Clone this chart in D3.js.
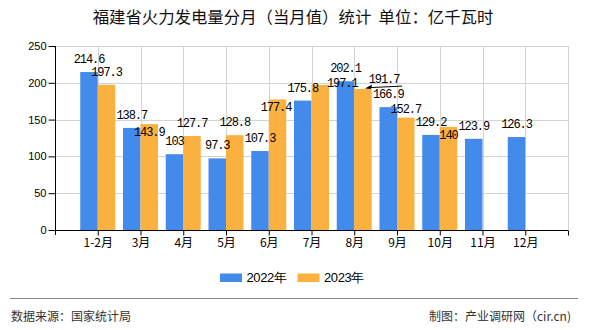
<!DOCTYPE html>
<html><head><meta charset="utf-8">
<script src="https://cdn.jsdelivr.net/npm/d3@7/dist/d3.min.js"></script>
<style>html,body{margin:0;padding:0;background:#fff;}svg{display:block;}</style>
</head><body>
<script>
const categories = ["1-2月","3月","4月","5月","6月","7月","8月","9月","10月","11月","12月"];
const series2022 = [214.6,138.7,103,97.3,107.3,175.8,202.1,166.9,129.2,123.9,126.3];
const series2023 = [197.3,143.9,127.7,128.8,177.4,197.1,191.7,152.7,140];
const seriesNames = ["2022年","2023年"];
const yTicks = [0,50,100,150,200,250];

// label placement nudges (layout only): [seriesIdx, catIdx] -> {dx, dy relative to bar top baseline}
const labelNudge = {
  "1-1": {dx:0, dy:12},
  "1-4": {dx:-1.5, dy:11.5},
  "1-5": {dx:22, dy:2.3},
  "1-6": {dx:21, dy:-6.3, leader:true},
  "1-7": {dx:0, dy:-4.5},
  "1-8": {dx:0, dy:12}
};

const W=590,H=330;
const colors=["#428bea","#fbb140"];
const svg=d3.select("body").append("svg").attr("width",W).attr("height",H);
const x=d3.scaleLinear().domain([0,12]).range([55,568]);
const y=d3.scaleLinear().domain([0,250]).range([230,46]);
const barW=17.5;

// title
svg.append("text").attr("x",293).attr("y",23).attr("text-anchor","middle")
  .attr("font-family","'Noto Sans CJK SC'").attr("font-size",16.4).attr("fill","#111")
  .attr("xml:space","preserve").style("white-space","pre")
  .text("福建省火力发电量分月（当月值）统计  单位：亿千瓦时");

// grid
const grid=svg.append("g").attr("stroke","#d3d3d3").attr("stroke-width",1);
yTicks.filter(t=>t>0).forEach(t=>{
  grid.append("line").attr("x1",x(0)).attr("x2",x(12)).attr("y1",Math.round(y(t))+0.5).attr("y2",Math.round(y(t))+0.5);
});
d3.range(1,13).forEach(k=>{
  grid.append("line").attr("x1",Math.round(x(k))+0.5).attr("x2",Math.round(x(k))+0.5).attr("y1",y(250)).attr("y2",y(0));
});

// bars
const allSeries=[series2022,series2023];
allSeries.forEach((s,si)=>{
  svg.append("g").selectAll("rect").data(s).join("rect")
    .attr("x",(d,i)=>x(i+1)+(si===0?-barW:0))
    .attr("y",d=>y(d))
    .attr("width",barW)
    .attr("height",d=>y(0)-y(d))
    .attr("fill",colors[si]);
});

// axes
const yAxis=d3.axisLeft(y).tickValues(yTicks).tickSize(7).tickPadding(2).tickFormat(d3.format("d"));
const gy=svg.append("g").attr("transform",`translate(${x(0)+0.5},0)`).call(yAxis);
gy.select(".domain").attr("d",`M0,${y(250)}V${y(0)+5}`).attr("stroke","#000");
gy.selectAll(".tick line").attr("stroke","#000");
gy.selectAll("text").attr("font-family","'Liberation Sans',Arial,sans-serif").attr("font-size",11).attr("fill","#000");

const xAxis=d3.axisBottom(x).tickValues(d3.range(1,13)).tickSize(5).tickPadding(3)
  .tickFormat(k=>categories[k-1]||"");
const gx=svg.append("g").attr("transform",`translate(0,${y(0)+0.5})`).call(xAxis);
gx.select(".domain").attr("d",`M${x(0)},0H${x(12)}`).attr("stroke","#000");
gx.selectAll(".tick line").attr("stroke","#000");
gx.selectAll("text").attr("font-family","'Noto Sans CJK SC'").attr("font-size",12).attr("fill","#000");

// value labels
const lab=svg.append("g").attr("font-family","'Liberation Mono',monospace").attr("font-size",12)
  .attr("letter-spacing","-1.1").attr("text-anchor","middle").attr("fill","#000");
allSeries.forEach((s,si)=>{
  s.forEach((v,i)=>{
    const cx=x(i+1)+(si===0?-barW/2:barW/2);
    const top=y(v);
    const n=labelNudge[si+"-"+i];
    let tx=cx, ty=top-9;
    if(n){ tx=cx+n.dx; ty=top+n.dy; }
    lab.append("text").attr("x",tx).attr("y",ty).text(String(v));
    if(n&&n.leader){
      const x1=tx+18, y1=ty+3.5, x2=cx+2, y2=top-0.5;
      svg.append("line").attr("x1",x1).attr("y1",y1).attr("x2",x2+5).attr("y2",y2-0.8).attr("stroke","#000").attr("stroke-width",1);
      svg.append("path").attr("d",`M${x2},${y2}L${x2+7},${y2-4}L${x2+6},${y2+0.5}Z`).attr("fill","#000");
    }
  });
});

// legend
const lg=svg.append("g").attr("font-family","'Liberation Sans',Arial,sans-serif").attr("font-size",13).attr("fill","#000");
const legendX=[220,297.5];
seriesNames.forEach((nm,i)=>{
  lg.append("rect").attr("x",legendX[i]).attr("y",273.5).attr("width",22).attr("height",8.5).attr("fill",colors[i]);
  lg.append("text").attr("x",legendX[i]+26.5).attr("y",282).attr("letter-spacing","-0.4").text(nm);
});

// footer
svg.append("line").attr("x1",10).attr("x2",578).attr("y1",298.5).attr("y2",298.5).attr("stroke","#888").attr("stroke-width",1);
svg.append("text").attr("x",11).attr("y",321).attr("font-family","'Noto Sans CJK SC'").attr("font-size",12).attr("fill","#333")
  .text("数据来源：国家统计局");
svg.append("text").attr("x",571).attr("y",321).attr("text-anchor","end").attr("font-family","'Noto Sans CJK SC'").attr("font-size",12).attr("fill","#333")
  .text("制图：产业调研网（cir.cn)");
</script>
</body></html>
